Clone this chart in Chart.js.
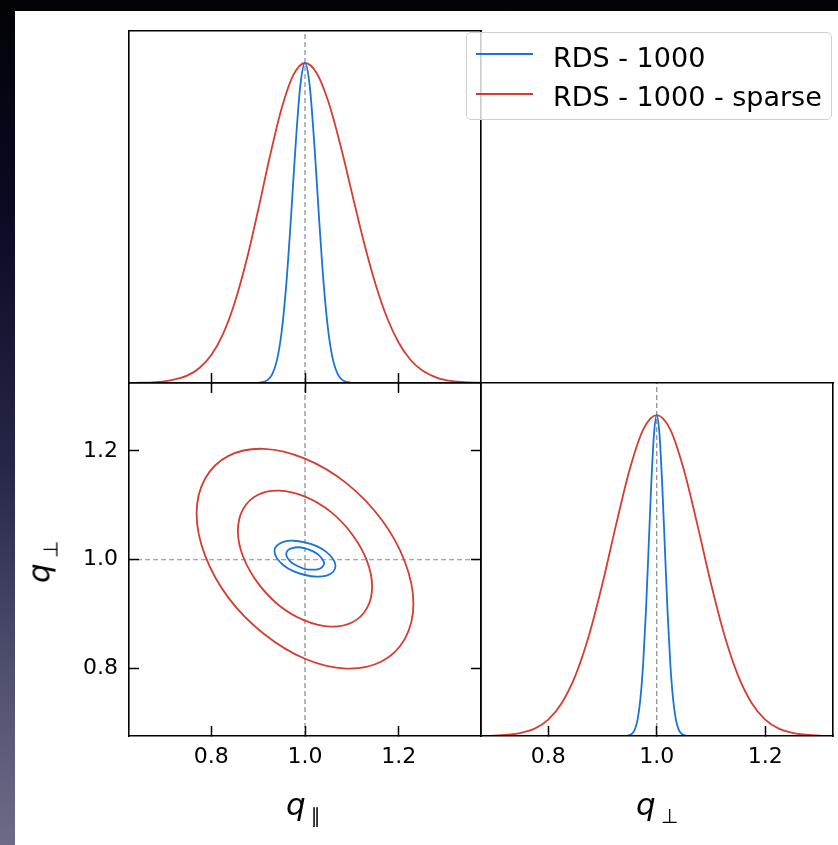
<!DOCTYPE html>
<html>
<head>
<meta charset="utf-8">
<script src="https://cdn.jsdelivr.net/npm/chart.js@4.4.0/dist/chart.umd.min.js"></script>
<style>
  html, body { margin: 0; padding: 0; }
  body {
    width: 838px; height: 845px; overflow: hidden; position: relative;
    background: linear-gradient(180deg, #020206 0%, #0a0a24 25%, #262646 55%, #50506f 80%, #6c6c88 100%);
    font-family: "DejaVu Sans", sans-serif;
  }
  #sheet { position: absolute; left: 15px; top: 11px; width: 823px; height: 834px; background: #fff; }
  canvas { position: absolute; }
  .lab { position: absolute; font-size: 31px; line-height: 31px; color: #000; white-space: nowrap; }
  .lab sub { font-size: 20px; vertical-align: -8px; margin-left: 5px; font-style: normal; }
  #legend {
    position: absolute; left: 466px; top: 32px; width: 364px; height: 86px;
    background: rgba(255, 255, 255, 0.8); border: 1px solid #cfcfcf; border-radius: 5px;
  }
  #legend .swatch { position: absolute; left: 9px; width: 57px; height: 2px; }
  #legend .name { position: absolute; left: 86px; font-size: 27px; line-height: 27px; color: #000; white-space: nowrap; }
</style>
</head>
<body>
<div id="sheet"></div>
<canvas id="topPanel" width="476" height="382" style="left:15px; top:11px;"></canvas>
<canvas id="jointPanel" width="476" height="472" style="left:15px; top:373px;"></canvas>
<canvas id="perpPanel" width="367" height="472" style="left:471px; top:373px;"></canvas>

<div class="lab" style="left:286px; top:789px;"><i>q</i><sub>∥</sub></div>
<div class="lab" style="left:636px; top:789px;"><i>q</i><sub>⊥</sub></div>
<div class="lab" style="left:45px; top:562px; transform: translate(-50%, -50%) rotate(-90deg);"><i>q</i><sub>⊥</sub></div>

<div id="legend"></div>

<script>
// Series
const seriesNames = ["RDS - 1000", "RDS - 1000 - sparse"];
const seriesColors = ["#1973DC", "#D63C30"];

// Axis ranges and ticks
const parRange = [0.625, 1.375];
const perpRange = [0.676, 1.325];
const densityRange = [0, 1.1];
const tickValues = [0.8, 1.0, 1.2];
const markerValue = 1.0;

// q_par marginal (top panel), normalised to peak 1
const parSparseX = [0.625, 0.65, 0.675, 0.70, 0.725, 0.75, 0.775, 0.80, 0.825, 0.85, 0.875, 0.90, 0.925, 0.95, 0.975, 1.00,
  1.025, 1.05, 1.075, 1.10, 1.125, 1.15, 1.175, 1.20, 1.225, 1.25, 1.275, 1.30, 1.325, 1.35, 1.375];
const parSparseY = [0.000, 0.001, 0.002, 0.005, 0.012, 0.024, 0.047, 0.087, 0.152, 0.250, 0.381, 0.539, 0.707, 0.857, 0.962, 1.000,
  0.968, 0.878, 0.746, 0.594, 0.443, 0.310, 0.203, 0.125, 0.072, 0.039, 0.020, 0.009, 0.004, 0.002, 0.001];
const parDenseX = [0.90, 0.92, 0.93, 0.94, 0.95, 0.96, 0.97, 0.98, 0.99, 1.00, 1.01, 1.02, 1.03, 1.04, 1.05, 1.06, 1.07, 1.08, 1.10];
const parDenseY = [0.000, 0.009, 0.027, 0.070, 0.157, 0.306, 0.514, 0.744, 0.929, 1.000, 0.929, 0.744, 0.514, 0.306, 0.157, 0.070, 0.027, 0.009, 0.000];

// q_perp marginal (bottom right panel)
const perpSparseX = [0.675, 0.70, 0.725, 0.75, 0.775, 0.80, 0.825, 0.85, 0.875, 0.90, 0.925, 0.95, 0.975, 1.00,
  1.025, 1.05, 1.075, 1.10, 1.125, 1.15, 1.175, 1.20, 1.225, 1.25, 1.275, 1.30, 1.325];
const perpSparseY = [0.000, 0.001, 0.004, 0.010, 0.023, 0.051, 0.103, 0.188, 0.313, 0.475, 0.658, 0.830, 0.955, 1.000,
  0.955, 0.830, 0.658, 0.475, 0.313, 0.188, 0.103, 0.051, 0.023, 0.010, 0.004, 0.001, 0.000];
const perpDenseX = [0.93, 0.94, 0.95, 0.955, 0.96, 0.965, 0.97, 0.975, 0.98, 0.985, 0.99, 0.995, 1.00,
  1.005, 1.01, 1.015, 1.02, 1.025, 1.03, 1.035, 1.04, 1.045, 1.05, 1.06, 1.07];
const perpDenseY = [0.000, 0.000, 0.003, 0.008, 0.022, 0.054, 0.118, 0.226, 0.386, 0.586, 0.788, 0.942, 1.000,
  0.942, 0.788, 0.586, 0.386, 0.226, 0.118, 0.054, 0.022, 0.008, 0.003, 0.000, 0.000];

// 2D contours (68% and 95%), traced round each ellipse, first point repeated at the end
const sparseOuterX = [1.231, 1.213, 1.163, 1.088, 1.000, 0.912, 0.837, 0.787, 0.769, 0.787, 0.837, 0.912, 1.000, 1.088, 1.163, 1.213, 1.231];
const sparseOuterY = [0.919, 0.855, 0.813, 0.800, 0.818, 0.864, 0.930, 1.008, 1.085, 1.149, 1.191, 1.204, 1.186, 1.141, 1.074, 0.996, 0.919];
const sparseInnerX = [1.143, 1.132, 1.101, 1.055, 1.000, 0.945, 0.899, 0.868, 0.857, 0.868, 0.899, 0.945, 1.000, 1.055, 1.101, 1.132, 1.143];
const sparseInnerY = [0.951, 0.911, 0.885, 0.877, 0.888, 0.916, 0.958, 1.006, 1.053, 1.093, 1.119, 1.127, 1.116, 1.088, 1.046, 0.998, 0.951];
const denseOuterX = [1.065, 1.060, 1.046, 1.025, 1.000, 0.975, 0.954, 0.940, 0.935, 0.940, 0.954, 0.975, 1.000, 1.025, 1.046, 1.060, 1.065];
const denseOuterY = [0.989, 0.978, 0.971, 0.969, 0.972, 0.979, 0.990, 1.003, 1.016, 1.026, 1.033, 1.035, 1.032, 1.025, 1.014, 1.001, 0.989];
const denseInnerX = [1.041, 1.037, 1.029, 1.016, 1.000, 0.985, 0.971, 0.963, 0.960, 0.963, 0.971, 0.985, 1.000, 1.016, 1.029, 1.037, 1.041];
const denseInnerY = [0.994, 0.987, 0.983, 0.982, 0.983, 0.988, 0.995, 1.003, 1.010, 1.017, 1.021, 1.023, 1.021, 1.016, 1.009, 1.001, 0.994];

Chart.defaults.font.family = "DejaVu Sans";

// Pair x and y arrays into points
function zipXY(xs, ys) {
  return xs.map((x, i) => ({ x: x, y: ys[i] }));
}

// Solid marginal curve
function curve(points, color) {
  return {
    data: points,
    showLine: true,
    borderColor: color,
    borderWidth: 1.8,
    pointRadius: 0,
    fill: false,
    cubicInterpolationMode: "monotone"
  };
}

// Closed contour: pad one point on each side so the join is smooth, and hide the two padding segments
function contour(xs, ys, color) {
  const pts = zipXY(xs, ys);
  const n = pts.length;
  const wrapped = [pts[n - 2]].concat(pts, [pts[1]]);
  const last = wrapped.length - 2;
  return {
    data: wrapped,
    showLine: true,
    borderColor: color,
    borderWidth: 1.8,
    pointRadius: 0,
    fill: false,
    tension: 0.34,
    segment: {
      borderColor: (ctx) => (ctx.p0DataIndex === 0 || ctx.p0DataIndex === last ? "rgba(0,0,0,0)" : undefined)
    }
  };
}

// Grey dashed marker line
function marker(points) {
  return {
    data: points,
    showLine: true,
    borderColor: "#8a8a8a",
    borderWidth: 1.2,
    borderDash: [5, 3],
    pointRadius: 0,
    fill: false
  };
}

// Axis with inward tick marks, size fixed so panels line up
function axis(position, range, size, marks, labels) {
  const horizontal = position === "top" || position === "bottom";
  return {
    type: "linear",
    axis: horizontal ? "x" : "y",
    position: position,
    min: range[0],
    max: range[1],
    afterBuildTicks: function (scale) {
      scale.ticks = tickValues.map((v) => ({ value: v }));
    },
    afterFit: function (scale) {
      if (horizontal) scale.height = size;
      else scale.width = size;
      scale.paddingTop = 0;
      scale.paddingBottom = 0;
      scale.paddingLeft = 0;
      scale.paddingRight = 0;
    },
    grid: {
      display: marks,
      drawOnChartArea: false,
      drawTicks: true,
      tickLength: -10,
      tickWidth: 1.5,
      tickColor: "#000",
      z: 1
    },
    border: { display: true, color: "#000", width: 1.6, z: 1 },
    ticks: {
      display: labels,
      padding: horizontal ? 18 : 21,
      color: "#000",
      font: { family: "DejaVu Sans", size: 22 },
      callback: function (value) {
        return value.toFixed(1);
      }
    }
  };
}

function makePanel(id, datasets, scales, padding) {
  return new Chart(document.getElementById(id), {
    type: "scatter",
    data: { datasets: datasets },
    options: {
      responsive: false,
      animation: false,
      events: [],
      layout: { padding: padding },
      plugins: { legend: { display: false }, tooltip: { enabled: false } },
      scales: scales
    }
  });
}

// Top: q_par marginal
makePanel("topPanel", [
  curve(zipXY(parDenseX, parDenseY), seriesColors[0]),
  curve(zipXY(parSparseX, parSparseY), seriesColors[1]),
  marker([{ x: markerValue, y: densityRange[0] }, { x: markerValue, y: densityRange[1] }])
], {
  x: axis("bottom", parRange, 10, true, false),
  y: axis("left", densityRange, 114, false, false),
  x2: axis("top", parRange, 0, false, false),
  y2: axis("right", densityRange, 0, false, false)
}, { left: 0, right: 10, top: 20, bottom: 0 });

// Bottom left: joint contours
makePanel("jointPanel", [
  contour(denseInnerX, denseInnerY, seriesColors[0]),
  contour(denseOuterX, denseOuterY, seriesColors[0]),
  contour(sparseInnerX, sparseInnerY, seriesColors[1]),
  contour(sparseOuterX, sparseOuterY, seriesColors[1]),
  marker([{ x: markerValue, y: perpRange[0] }, { x: markerValue, y: perpRange[1] }]),
  marker([{ x: parRange[0], y: markerValue }, { x: parRange[1], y: markerValue }])
], {
  x: axis("bottom", parRange, 109, true, true),
  y: axis("left", perpRange, 114, true, true),
  x2: axis("top", parRange, 0, true, false),
  y2: axis("right", perpRange, 0, true, false)
}, { left: 0, right: 10, top: 10, bottom: 0 });

// Bottom right: q_perp marginal
makePanel("perpPanel", [
  curve(zipXY(perpDenseX, perpDenseY), seriesColors[0]),
  curve(zipXY(perpSparseX, perpSparseY), seriesColors[1]),
  marker([{ x: markerValue, y: densityRange[0] }, { x: markerValue, y: densityRange[1] }])
], {
  x: axis("bottom", perpRange, 109, true, true),
  y: axis("left", densityRange, 0, false, false),
  x2: axis("top", perpRange, 0, false, false),
  y2: axis("right", densityRange, 0, false, false)
}, { left: 10, right: 5, top: 10, bottom: 0 });

// Legend box
function buildLegend() {
  const box = document.getElementById("legend");
  seriesNames.forEach((name, i) => {
    const swatch = document.createElement("div");
    swatch.className = "swatch";
    swatch.style.top = (20 + i * 39.5) + "px";
    swatch.style.background = seriesColors[i];
    box.appendChild(swatch);

    const label = document.createElement("div");
    label.className = "name";
    label.style.top = (11 + i * 39) + "px";
    label.textContent = name;
    box.appendChild(label);
  });
}
buildLegend();
</script>
</body>
</html>
